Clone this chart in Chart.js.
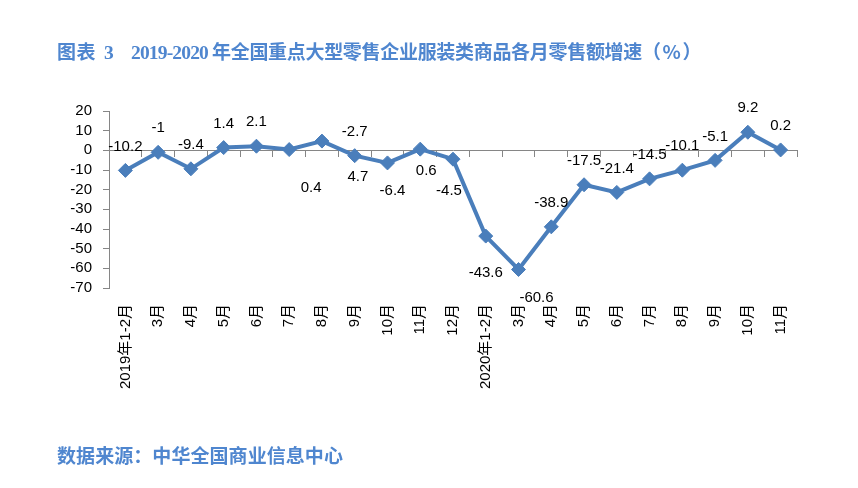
<!DOCTYPE html>
<html><head><meta charset="utf-8">
<script src="https://cdn.jsdelivr.net/npm/chart.js@4"></script>
<style>
html,body{margin:0;padding:0;background:#fff;width:858px;height:488px;overflow:hidden}
#wrap{position:absolute;left:0;top:0;width:858px;height:488px}
.t{position:absolute;left:0;color:#4f86cf;font-weight:bold;white-space:pre;line-height:24px}
.t span{display:inline-block}
.cjk{font-family:"Noto Sans CJK SC",sans-serif;font-size:19px}
.lat{font-family:"Liberation Serif",serif;font-size:19.5px}
</style></head><body>
<div id="wrap"><canvas id="c" width="858" height="488"></canvas></div>
<div class="t" style="top:39px"><span class="cjk" data-x="57" data-w="39">图表</span><span class="lat" data-x="104">3</span><span class="lat" data-x="131" data-w="77">2019-2020</span><span class="cjk" data-x="212" data-w="430">年全国重点大型零售企业服装类商品各月零售额增速</span><span class="cjk" data-x="642" data-w="61">（%）</span></div>
<div class="t" style="top:443px"><span class="cjk" data-x="57" data-w="286">数据来源：中华全国商业信息中心</span></div>
<script>
// fit title/footer text segments to the reference's horizontal positions
document.querySelectorAll('.t').forEach(div => {
  div.querySelectorAll('span').forEach(sp => {
    if (sp.dataset.w) {
      const w = sp.getBoundingClientRect().width;
      const n = sp.textContent.length;
      sp.style.letterSpacing = ((+sp.dataset.w - w) / n) + 'px';
    }
  });
  div.querySelectorAll('span').forEach(sp => {
    const cur = sp.getBoundingClientRect().left;
    sp.style.marginLeft = (+sp.dataset.x - cur) + 'px';
  });
});

const categories = ['2019年1-2月','3月','4月','5月','6月','7月','8月','9月','10月','11月','12月',
                    '2020年1-2月','3月','4月','5月','6月','7月','8月','9月','10月','11月'];
const growth = [-10.2, -1, -9.4, 1.4, 2.1, 0.4, 4.7, -2.7, -6.4, 0.6, -4.5,
                -43.6, -60.6, -38.9, -17.5, -21.4, -14.5, -10.1, -5.1, 9.2, 0.2];
const yMin = -70, yMax = 20, yStep = 10;

const FONT = '"Liberation Sans","Noto Sans CJK SC",sans-serif';
const AXIS = '#868686';

const labelPlugin = {
  id: 'pointValueLabels',
  offsets: {5:[22,38], 6:[36,36], 8:[5,28], 9:[6,22], 10:[-4,32], 11:[0,37], 12:[18,28]},
  def: [0,-24],
  afterDatasetsDraw(chart) {
    const meta = chart.getDatasetMeta(0);
    const ctx = chart.ctx;
    ctx.save();
    ctx.font = '15px ' + FONT;
    ctx.fillStyle = '#000';
    ctx.textAlign = 'center';
    ctx.textBaseline = 'middle';
    meta.data.forEach((pt, i) => {
      const off = this.offsets[i] || this.def;
      ctx.fillText(String(growth[i]), pt.x + off[0], pt.y + off[1]);
    });
    ctx.restore();
  }
};

new Chart(document.getElementById('c'), {
  type: 'line',
  data: {
    labels: categories,
    datasets: [{
      data: growth,
      borderColor: '#4a7ebb',
      backgroundColor: '#4a7ebb',
      borderWidth: 4,
      tension: 0,
      pointStyle: 'rectRot',
      pointRadius: 7,
      pointBorderWidth: 1,
      pointBackgroundColor: '#4a7ebb',
      pointBorderColor: '#4a7ebb',
      xAxisID: 'x',
      yAxisID: 'y'
    }]
  },
  options: {
    responsive: false,
    animation: false,
    devicePixelRatio: 1,
    layout: {padding: {left: 0, right: 61, top: 111, bottom: 0}},
    plugins: {legend: {display: false}, tooltip: {enabled: false}},
    scales: {
      x: {
        type: 'category', position: 'bottom', offset: true,
        grid: {display: false}, border: {display: false},
        ticks: {autoSkip: false, minRotation: 90, maxRotation: 90, padding: 8, color: '#000',
                font: {size: 15, family: FONT}},
        afterFit(s) { s.height = 200; }
      },
      x2: {
        type: 'category', axis: 'x', position: {y: 0}, offset: true,
        grid: {display: true, drawOnChartArea: false, drawTicks: true, tickLength: 6, offset: true, color: AXIS},
        border: {display: true, color: AXIS, width: 1},
        ticks: {display: false}
      },
      y: {
        min: yMin, max: yMax,
        grid: {drawOnChartArea: false, drawTicks: true, tickLength: 6, color: AXIS},
        border: {display: true, color: AXIS},
        ticks: {stepSize: yStep, autoSkip: false, padding: 11, color: '#000', font: {size: 15, family: FONT}},
        afterFit(s) { s.width = 109; }
      }
    }
  },
  plugins: [labelPlugin]
});
</script>
</body></html>
